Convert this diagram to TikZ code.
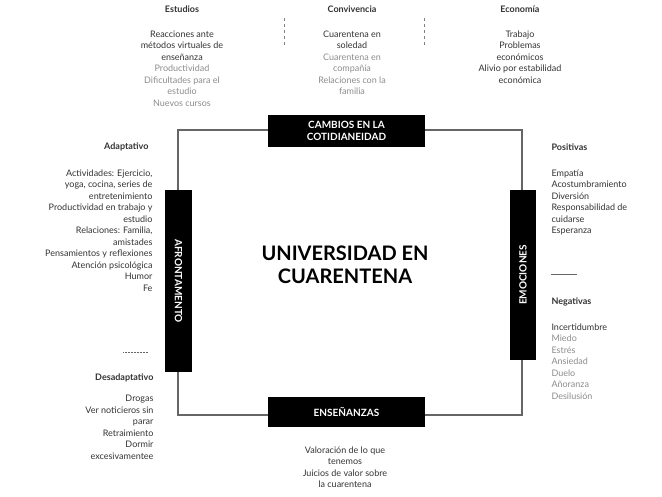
\documentclass[tikz,border=0pt]{standalone}
\usepackage{fontspec}
\setmainfont{Lato}
\begin{document}
\begin{tikzpicture}[x=1pt,y=-1pt,
  blk/.style={fill=black,text=white,font=\bfseries\fontsize{10}{11}\selectfont,align=center,inner sep=0pt},
  hd/.style={font=\bfseries\fontsize{9}{11}\selectfont,text=black!80},
  it/.style={font=\fontsize{9}{11.5}\selectfont,text=black!80},
  gr/.style={text=black!45},
  frame/.style={draw=black!60,line width=1.6pt}]
\useasboundingbox (0,0) rectangle (662,497);
\draw[frame] (178,130) rectangle (522,415);
\node[blk,minimum width=157,minimum height=32] (top) at (346.5,131) {CAMBIOS EN LA\\[1pt]COTIDIANEIDAD};
\node[blk,minimum width=157,minimum height=30] (bot) at (346.5,412) {ENSEÑANZAS};
\node[blk,minimum width=27,minimum height=182] (lft) at (178.5,281) {};
\node[blk,rotate=-90] (lftt) at (lft.center) {AFRONTAMENTO};
\node[blk,minimum width=26,minimum height=170] (rgt) at (523,275) {};
\node[blk,rotate=90] (rgtt) at (rgt.center) {EMOCIONES};
\node[font=\bfseries\fontsize{20}{23}\selectfont,align=center] (title) at (345,265) {UNIVERSIDAD EN\\CUARENTENA};

\node[hd] (h1) at (182,9) {Estudios};
\node[hd] (h2) at (352,9) {Convivencia};
\node[hd] (h3) at (520,9) {Economía};
\draw[dashed,black!50,line width=0.7pt] (284,18) -- (284,45);
\draw[dashed,black!50,line width=0.7pt] (424,18) -- (424,45);
\node[it,align=center,anchor=north] (e1) at (182,27) {Reacciones ante\\métodos virtuales de\\enseñanza\\{\color{black!45}Productividad}\\{\color{black!45}Dificultades para el}\\{\color{black!45}estudio}\\{\color{black!45}Nuevos cursos}};
\node[it,align=center,anchor=north] (e2) at (352,27) {Cuarentena en\\soledad\\{\color{black!45}Cuarentena en}\\{\color{black!45}compañía}\\{\color{black!45}Relaciones con la}\\{\color{black!45}familia}};
\node[it,align=center,anchor=north] (e3) at (520,27) {Trabajo\\Problemas\\económicos\\Alivio por estabilidad\\económica};

\node[hd,anchor=east] (ad) at (152,147) {Adaptativo};
\node[it,align=right,anchor=north east] (adl) at (156,166) {Actividades: Ejercicio,\\yoga, cocina, series de\\entretenimiento\\Productividad en trabajo y\\estudio\\Relaciones: Familia,\\amistades\\Pensamientos y reflexiones\\Atención psicológica\\Humor\\Fe};
\draw[dashed,black!60,line width=0.8pt,dash pattern=on 1pt off 0.5pt] (123,352) -- (148,352);
\node[hd,anchor=east] (des) at (157,378) {Desadaptativo};
\node[it,align=right,anchor=north east] (desl) at (157,392) {Drogas\\Ver noticieros sin\\parar\\Retraimiento\\Dormir\\excesivamentee};

\node[hd,anchor=west] (pos) at (548,147) {Positivas};
\node[it,align=left,anchor=north west] (posl) at (548,166) {Empatía\\Acostumbramiento\\Diversión\\Responsabilidad de\\cuidarse\\Esperanza};
\draw[black!60,line width=0.8pt] (551,274) -- (577,274);
\node[hd,anchor=west] (neg) at (548,302) {Negativas};
\node[it,align=left,anchor=north west] (negl) at (548,320) {Incertidumbre\\{\color{black!45}Miedo}\\{\color{black!45}Estrés}\\{\color{black!45}Ansiedad}\\{\color{black!45}Duelo}\\{\color{black!45}Añoranza}\\{\color{black!45}Desilusión}};

\node[it,align=center,anchor=north] (ens) at (345,443) {Valoración de lo que\\tenemos\\Juicios de valor sobre\\la cuarentena};
\end{tikzpicture}
\end{document}
